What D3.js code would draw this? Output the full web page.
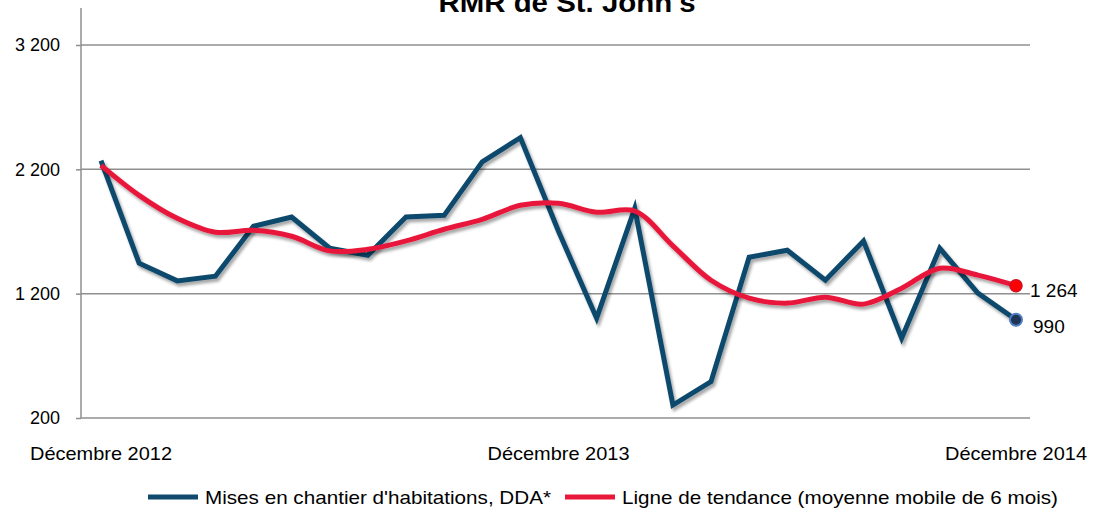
<!DOCTYPE html>
<html>
<head>
<meta charset="utf-8">
<script src="https://cdn.jsdelivr.net/npm/d3@7"></script>
<style>
  body { margin: 0; background: #fff; }
  text { font-family: "Liberation Sans", Arial, sans-serif; fill: #000; }
</style>
</head>
<body>
<div id="chart"></div>
<script>

// monthly housing starts, Dec 2012 .. Dec 2014
var starts = [2270, 1445, 1303, 1340, 1742, 1817, 1565, 1509, 1817, 1830, 2260, 2455, 1702,
              1003, 1887, 304, 492, 1493, 1549, 1308, 1624, 842, 1565, 1204, 990];
// 6 month moving average
var trend = [2232, 1991, 1806, 1694, 1710, 1662, 1544, 1557, 1624, 1718, 1798, 1911, 1927,
             1855, 1865, 1585, 1308, 1164, 1124, 1172, 1116, 1244, 1405, 1349, 1264];
var monthIdx = d3.range(starts.length);
var xTickIdx = [0, 12, 24];
var xTickLabels = ["Décembre 2012", "Décembre 2013", "Décembre 2014"];
var yTicks = [200, 1200, 2200, 3200];
var seriesNames = ["Mises en chantier d'habitations, DDA*", "Ligne de tendance (moyenne mobile de 6 mois)"];
var titleText = "RMR de St. John's";

var blueColor = '#114a6c'
var redColor = '#e8183a'

var width = 1100, height = 518;

var svg = d3.select("#chart").append("svg")
  .attr("width", width)
  .attr("height", height);

var defs = svg.append("defs");
var shadow = defs.append("filter")
  .attr("id", "shadow")
  .attr("x", "-10%").attr("y", "-10%")
  .attr("width", "120%").attr("height", "130%");
shadow.append("feDropShadow")
  .attr("dx", 2).attr("dy", 3)
  .attr("stdDeviation", 1.6)
  .attr("flood-color", "#000")
  .attr("flood-opacity", 0.35);

var xScale = d3.scaleLinear()
  .domain([0, monthIdx.length - 1])
  .range([101, 1016]);

var yScale = d3.scaleLinear()
  .domain([200, 3200])
  .range([418, 45]);

var fmt = d3.formatLocale({decimal: ",", thousands: " ", grouping: [3], currency: ["", ""]}).format(",d");

// gridlines
svg.append("g")
  .selectAll("line")
  .data(yTicks)
  .enter().append("line")
    .attr("x1", 81)
    .attr("x2", 1030)
    .attr("y1", function(d) { return yScale(d); })
    .attr("y2", function(d) { return yScale(d); })
    .style("stroke", "#8f8f8f")
    .style("stroke-width", 1.5);

// y axis
var yAxis = d3.axisLeft(yScale)
  .tickValues(yTicks)
  .tickSize(5)
  .tickPadding(16)
  .tickFormat(fmt);

var yG = svg.append("g")
  .attr("transform", "translate(81,0)")
  .call(yAxis);
yG.select(".domain").remove();
yG.selectAll(".tick line").style("stroke", "#8f8f8f").style("stroke-width", 1.5);
yG.selectAll(".tick text")
  .style("font-size", "18px")
  .style("font-family", "Liberation Sans, Arial, sans-serif")
  .style("fill", "#000");

svg.append("line")
  .attr("x1", 81).attr("x2", 81)
  .attr("y1", 8).attr("y2", 418)
  .style("stroke", "#8f8f8f")
  .style("stroke-width", 1.5);

// x labels
svg.append("g")
  .selectAll("text")
  .data(xTickIdx)
  .enter().append("text")
    .attr("x", function(d) { return xScale(d); })
    .attr("y", 460)
    .attr("text-anchor", "middle")
    .attr("textLength", 142)
    .attr("lengthAdjust", "spacingAndGlyphs")
    .style("font-size", "19px")
    .text(function(d, i) { return xTickLabels[i]; });

// lines
var blueLine = d3.line()
  .x(function(d, i) { return xScale(i); })
  .y(function(d) { return yScale(d); });

var redLine = d3.line()
  .x(function(d, i) { return xScale(i); })
  .y(function(d) { return yScale(d); })
  .curve(d3.curveCatmullRom.alpha(0.5));

svg.append("path")
  .datum(starts)
  .attr("d", blueLine)
  .attr("filter", "url(#shadow)")
  .style("fill", "none")
  .style("stroke", blueColor)
  .style("stroke-width", 5)
  .style("stroke-linejoin", "miter");

svg.append("path")
  .datum(trend)
  .attr("d", redLine)
  .attr("filter", "url(#shadow)")
  .style("fill", "none")
  .style("stroke", redColor)
  .style("stroke-width", 5)
  .style("stroke-linejoin", "round");

// end points
var last = monthIdx.length - 1;

svg.append("circle")
  .attr("cx", xScale(last))
  .attr("cy", yScale(trend[last]))
  .attr("r", 6)
  .style("fill", "#ff0000")
  .style("stroke", "#d01020")
  .style("stroke-width", 1.5);

svg.append("circle")
  .attr("cx", xScale(last))
  .attr("cy", yScale(starts[last]))
  .attr("r", 6)
  .style("fill", "#1f3558")
  .style("stroke", "#4f7fbf")
  .style("stroke-width", 2);

svg.append("text")
  .attr("x", xScale(last) + 14)
  .attr("y", yScale(trend[last]) + 11)
  .style("font-size", "19px")
  .text(fmt(trend[last]));

svg.append("text")
  .attr("x", xScale(last) + 17)
  .attr("y", yScale(starts[last]) + 13)
  .style("font-size", "19px")
  .text(fmt(starts[last]));

// title, cut by the top of the picture
svg.append("text")
  .attr("x", 567)
  .attr("y", 12)
  .attr("text-anchor", "middle")
  .attr("textLength", 257)
  .attr("lengthAdjust", "spacingAndGlyphs")
  .style("font-size", "28px")
  .style("font-weight", "bold")
  .text(titleText);

// legend
var legendItems = [
  {x: 148, color: blueColor, len: 346},
  {x: 565, color: redColor, len: 436}
];

var legend = svg.append("g");
legend.selectAll("line")
  .data(legendItems)
  .enter().append("line")
    .attr("x1", function(d) { return d.x; })
    .attr("x2", function(d) { return d.x + 50; })
    .attr("y1", 497)
    .attr("y2", 497)
    .style("stroke", function(d) { return d.color; })
    .style("stroke-width", 5);

legend.selectAll("text")
  .data(legendItems)
  .enter().append("text")
    .attr("x", function(d) { return d.x + 57; })
    .attr("y", 504)
    .attr("textLength", function(d) { return d.len; })
    .attr("lengthAdjust", "spacingAndGlyphs")
    .style("font-size", "19px")
    .text(function(d, i) { return seriesNames[i]; });

</script>
</body>
</html>
